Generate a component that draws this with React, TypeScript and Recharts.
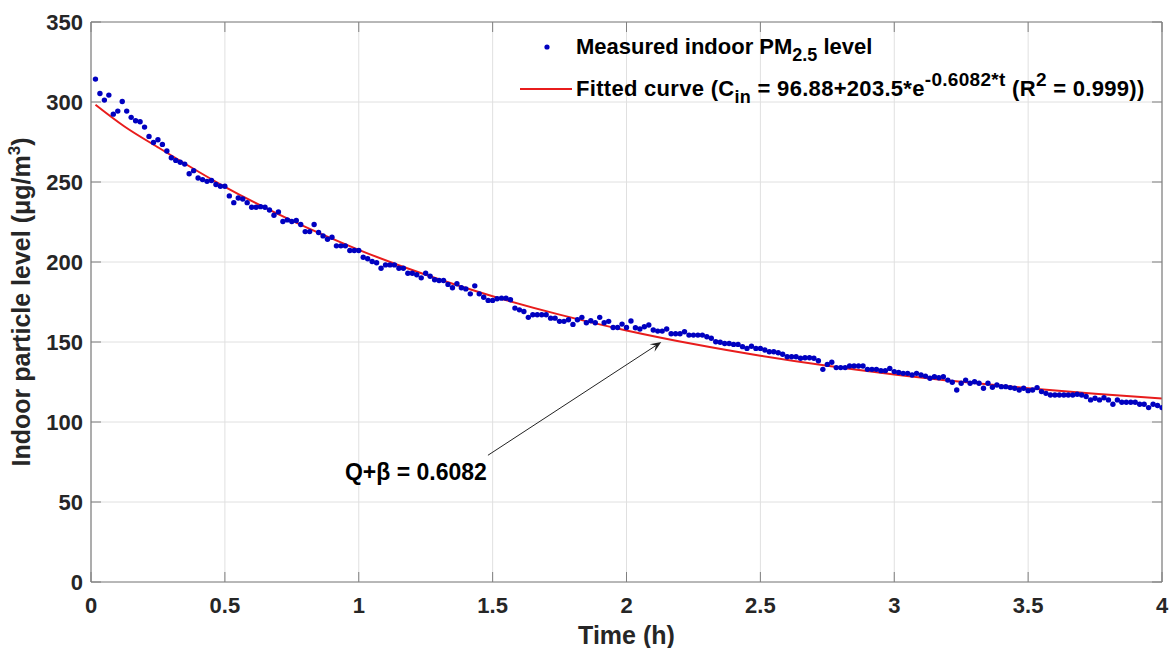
import React from 'react';
import {
  ComposedChart,
  Scatter,
  Line,
  XAxis,
  YAxis,
  CartesianGrid,
  Legend,
  ReferenceLine,
} from 'recharts';

// Measured indoor PM2.5 (µg/m³), one reading per minute from t = 1 min to 240 min
const measuredPM = [
  314.3, 305.3, 301.2, 304.3, 292.4, 294.3, 300.3, 294.3, 290.4, 288.3,
  287.7, 284.3, 278.5, 274.7, 276.4, 273.5, 269.4, 265.2, 263.5, 262.3,
  261.2, 255.2, 257.1, 252.5, 251.5, 250.4, 250.9, 248.4, 247.3, 247.3,
  241.3, 237.1, 240.0, 239.4, 237.1, 234.2, 234.2, 234.6, 234.2, 232.5,
  229.2, 231.3, 225.3, 226.3, 225.3, 225.9, 223.4, 219.0, 219.0, 223.4,
  218.4, 216.3, 214.2, 215.5, 210.1, 210.1, 210.1, 207.2, 207.2, 207.2,
  203.0, 202.0, 200.3, 199.5, 196.1, 198.2, 198.2, 198.2, 196.1, 196.1,
  193.0, 193.0, 192.0, 190.1, 193.0, 191.1, 188.9, 188.4, 188.4, 186.0,
  183.9, 186.4, 183.9, 183.2, 180.1, 185.1, 180.1, 178.0, 176.0, 176.0,
  177.0, 177.4, 177.4, 176.4, 171.2, 170.1, 169.1, 165.4, 167.0, 167.0,
  167.0, 167.0, 164.9, 164.9, 162.9, 162.9, 163.9, 161.0, 163.9, 165.4,
  162.0, 163.3, 162.0, 165.4, 162.0, 162.9, 159.1, 159.1, 161.2, 159.1,
  163.1, 158.9, 158.1, 159.5, 160.6, 157.5, 156.8, 156.8, 158.1, 155.2,
  155.2, 155.2, 156.4, 154.3, 154.3, 154.3, 154.3, 153.3, 152.3, 150.2,
  149.8, 149.1, 149.1, 148.5, 148.5, 147.1, 146.0, 147.3, 146.0, 146.0,
  145.0, 143.9, 143.9, 143.3, 142.3, 140.8, 140.8, 140.8, 139.8, 140.2,
  140.2, 139.8, 138.3, 132.9, 136.0, 137.3, 134.0, 134.0, 134.0, 135.0,
  135.0, 135.0, 135.0, 132.9, 132.9, 132.9, 132.1, 132.1, 133.5, 131.5,
  131.0, 130.4, 130.4, 129.4, 130.4, 129.4, 128.7, 127.3, 128.3, 127.7,
  128.3, 126.2, 124.8, 120.0, 124.2, 126.2, 124.2, 125.2, 124.2, 121.1,
  124.2, 121.7, 123.1, 122.1, 122.1, 121.5, 121.1, 120.0, 121.1, 119.6,
  120.0, 121.5, 119.0, 117.9, 116.9, 116.9, 116.9, 116.9, 116.9, 116.9,
  117.3, 116.9, 115.9, 113.8, 114.8, 113.8, 115.2, 113.8, 111.1, 113.8,
  112.3, 112.3, 112.3, 112.3, 111.1, 111.1, 109.0, 111.1, 110.3, 109.0,
];
const SAMPLE_STEP_H = 1 / 60;

// Fitted curve
const fitTime = [0.0167, 0.125, 0.25, 0.5, 0.75, 1.0, 1.25, 1.5, 1.75, 2.0, 2.25, 2.5, 2.75, 3.0, 3.25, 3.5, 3.75, 4.0];
const fitValue = [298.3, 284.7, 271.7, 247.0, 225.8, 207.6, 192.0, 178.6, 167.1, 157.2, 148.7, 141.4, 135.1, 129.7, 125.1, 121.1, 117.7, 114.7];

const xTicks = [0, 0.5, 1, 1.5, 2, 2.5, 3, 3.5, 4];
const yTicks = [0, 50, 100, 150, 200, 250, 300, 350];

const xTitle = 'Time (h)';
const yTitleMain = 'Indoor particle level (μg/m';
const annotationText = 'Q+β = 0.6082';
const arrowTail = { t: 1.4825, v: 79.2 };
const arrowHead = { t: 2.13, v: 150.0 };

const measuredData = measuredPM.map((v, i) => ({ t: (i + 1) * SAMPLE_STEP_H, v }));
const fitData = fitTime.map((t, i) => ({ t, v: fitValue[i] }));

const FONT = '"Liberation Sans", Arial, Helvetica, sans-serif';
const AXIS = '#808080';
const GRID = '#e0e0e0';
const TXT = '#262626';
const BLUE = '#0000c0';
const RED = '#e81c1c';
const TICK_LEN = 10;

const BottomTick = (p: any) => (
  <g>
    <line x1={p.x} y1={p.y} x2={p.x} y2={p.y - TICK_LEN} stroke={AXIS} strokeWidth={1} />
    <text x={p.x} y={p.y + 31} textAnchor="middle" fontSize={22} fontWeight="bold" fill={TXT} fontFamily={FONT}>
      {String(p.payload.value)}
    </text>
  </g>
);
const LeftTick = (p: any) => (
  <g>
    <line x1={p.x} y1={p.y} x2={p.x + TICK_LEN} y2={p.y} stroke={AXIS} strokeWidth={1} />
    <text x={p.x - 8} y={p.y} dy="0.36em" textAnchor="end" fontSize={22} fontWeight="bold" fill={TXT} fontFamily={FONT}>
      {String(p.payload.value)}
    </text>
  </g>
);
const TopTick = (p: any) => (
  <line x1={p.x} y1={p.y} x2={p.x} y2={p.y + TICK_LEN} stroke={AXIS} strokeWidth={1} />
);
const RightTick = (p: any) => (
  <line x1={p.x} y1={p.y} x2={p.x - TICK_LEN} y2={p.y} stroke={AXIS} strokeWidth={1} />
);

const XTitle = (props: any) => {
  const vb = props.viewBox;
  return (
    <text x={vb.x + vb.width / 2} y={vb.y + 62} textAnchor="middle" fontSize={25} fontWeight="bold" fill={TXT} fontFamily={FONT}>
      {xTitle}
    </text>
  );
};
const YTitle = (props: any) => {
  const vb = props.viewBox;
  const cx = 30;
  const cy = vb.y + vb.height / 2;
  return (
    <text x={cx} y={cy} transform={`rotate(-90, ${cx}, ${cy})`} textAnchor="middle" fontSize={25} fontWeight="bold" fill={TXT} fontFamily={FONT}>
      <tspan>{yTitleMain}</tspan>
      <tspan dy={-10} fontSize={17}>3</tspan>
      <tspan dy={10}>)</tspan>
    </text>
  );
};

const ArrowShape = (p: any) => {
  const { x1, y1, x2, y2 } = p;
  const dx = x2 - x1;
  const dy = y2 - y1;
  const len = Math.sqrt(dx * dx + dy * dy) || 1;
  const ux = dx / len;
  const uy = dy / len;
  const hl = 11;
  const hw = 4.5;
  const bx = x2 - ux * hl;
  const by = y2 - uy * hl;
  const nx = x2 - ux * hl * 0.6;
  const ny = y2 - uy * hl * 0.6;
  const pts = `${x2},${y2} ${bx - uy * hw},${by + ux * hw} ${nx},${ny} ${bx + uy * hw},${by - ux * hw}`;
  return (
    <g>
      <line x1={x1} y1={y1} x2={nx} y2={ny} stroke="#222" strokeWidth={1} />
      <polygon points={pts} fill="#222" />
      <text x={x1 - 72} y={y1 + 25} textAnchor="middle" fontSize={23} fontWeight="bold" fill="#000" fontFamily={FONT}>
        {annotationText}
      </text>
    </g>
  );
};

const SUB = { fontSize: 18, verticalAlign: -7, lineHeight: 0 } as const;
const SUP = { fontSize: 19, verticalAlign: 10, lineHeight: 0 } as const;

const LegendBox = () => (
  <div style={{ fontFamily: FONT, fontWeight: 'bold', fontSize: 22, color: '#000', lineHeight: '24px', whiteSpace: 'nowrap' }}>
    <div style={{ display: 'flex', alignItems: 'center', height: 42 }}>
      <svg width={54} height={20} style={{ flex: 'none' }}>
        <circle cx={27} cy={10} r={2.6} fill={BLUE} />
      </svg>
      <span style={{ marginLeft: 2 }}>
        Measured indoor PM<sub style={SUB}>2.5</sub> level
      </span>
    </div>
    <div style={{ display: 'flex', alignItems: 'center', height: 42 }}>
      <svg width={54} height={20} style={{ flex: 'none' }}>
        <line x1={0} y1={10} x2={52} y2={10} stroke={RED} strokeWidth={2} />
      </svg>
      <span style={{ marginLeft: 2, letterSpacing: 0.3 }}>
        Fitted curve (C<sub style={SUB}>in</sub> = 96.88+203.5*e<sup style={SUP}>-0.6082*t</sup> (R<sup style={SUP}>2</sup> = 0.999))
      </span>
    </div>
  </div>
);

export default function App() {
  return (
    <div style={{ position: 'absolute', left: 0, top: 0, width: 1170, height: 648, background: '#fff' }}>
      <ComposedChart width={1170} height={648} margin={{ top: 21, right: 7, bottom: 26, left: 11 }}>
        <CartesianGrid xAxisId="b" yAxisId="l" stroke={GRID} strokeWidth={1} />
        <XAxis
          xAxisId="b"
          dataKey="t"
          type="number"
          domain={[0, 4]}
          ticks={xTicks}
          interval={0}
          allowDataOverflow
          height={40}
          tickSize={0}
          tickMargin={0}
          tickLine={false}
          axisLine={{ stroke: AXIS, strokeWidth: 1.2 }}
          tick={<BottomTick />}
          label={<XTitle />}
        />
        <XAxis
          xAxisId="top"
          orientation="top"
          dataKey="t"
          type="number"
          domain={[0, 4]}
          ticks={xTicks}
          interval={0}
          allowDataOverflow
          height={1}
          tickSize={0}
          tickMargin={0}
          tickLine={false}
          axisLine={{ stroke: AXIS, strokeWidth: 1.2 }}
          tick={<TopTick />}
        />
        <YAxis
          yAxisId="l"
          type="number"
          domain={[0, 350]}
          ticks={yTicks}
          interval={0}
          allowDataOverflow
          width={80}
          tickSize={0}
          tickMargin={0}
          tickLine={false}
          axisLine={{ stroke: AXIS, strokeWidth: 1.2 }}
          tick={<LeftTick />}
          label={<YTitle />}
        />
        <YAxis
          yAxisId="r"
          orientation="right"
          type="number"
          domain={[0, 350]}
          ticks={yTicks}
          interval={0}
          allowDataOverflow
          width={1}
          tickSize={0}
          tickMargin={0}
          tickLine={false}
          axisLine={{ stroke: AXIS, strokeWidth: 1.2 }}
          tick={<RightTick />}
        />
        <Scatter
          xAxisId="b"
          yAxisId="l"
          name="Measured indoor PM2.5 level"
          data={measuredData}
          dataKey="v"
          isAnimationActive={false}
          shape={(p: any) => <circle cx={p.cx} cy={p.cy} r={2.7} fill={BLUE} />}
        />
        <Line
          xAxisId="b"
          yAxisId="l"
          data={fitData}
          dataKey="v"
          type="monotone"
          stroke={RED}
          strokeWidth={2}
          dot={false}
          activeDot={false}
          isAnimationActive={false}
        />
        <ReferenceLine
          xAxisId="b"
          yAxisId="l"
          segment={[
            { x: arrowTail.t, y: arrowTail.v },
            { x: arrowHead.t, y: arrowHead.v },
          ]}
          shape={ArrowShape}
        />
        <Legend
          layout="horizontal"
          verticalAlign="middle"
          align="center"
          content={<LegendBox />}
          wrapperStyle={{ position: 'absolute', left: 520, top: 26, width: 'auto' }}
        />
      </ComposedChart>
    </div>
  );
}
